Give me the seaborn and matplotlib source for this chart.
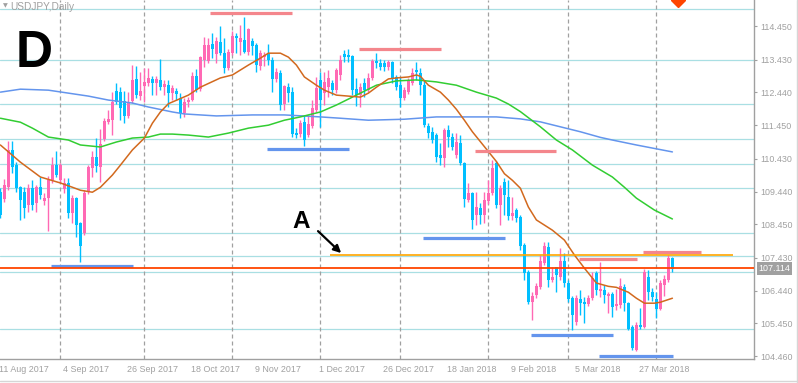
import numpy as np
import pandas as pd
import matplotlib
matplotlib.use('Agg')
import matplotlib.pyplot as plt
import matplotlib.transforms as mtransforms
import seaborn as sns

# USDJPY daily bars, 11 Aug 2017 .. 6 Apr 2018 (x = bar number)
opens = [109.42, 109.21, 109.57, 110.70, 110.24, 109.57, 109.42, 109.03, 109.54, 109.09,
         109.57, 109.15, 109.24, 109.79, 110.24, 109.79, 109.51, 109.70, 108.79, 109.24,
         108.48, 108.18, 109.42, 110.15, 110.48, 110.18, 111.03, 111.54, 111.60, 112.48,
         112.45, 112.18, 111.73, 112.18, 112.85, 112.33, 112.63, 112.73, 112.85, 112.73,
         112.82, 112.60, 112.66, 112.42, 112.48, 112.27, 111.82, 112.15, 112.21, 112.94,
         112.54, 113.42, 113.39, 113.91, 113.60, 113.97, 113.63, 113.18, 113.63, 114.15,
         113.97, 114.03, 113.66, 114.00, 113.88, 113.24, 113.51, 113.63, 113.42, 112.85,
         113.03, 112.09, 112.60, 112.45, 111.21, 111.18, 111.54, 111.15, 111.42, 111.91,
         112.82, 112.42, 112.60, 112.73, 112.51, 112.97, 113.60, 113.57, 113.54, 112.54,
         112.36, 112.73, 112.51, 112.88, 113.39, 113.33, 113.33, 113.21, 113.36, 112.91,
         112.66, 112.27, 112.45, 112.73, 113.12, 113.03, 112.66, 111.42, 111.24, 111.15,
         110.54, 110.45, 111.30, 111.09, 110.54, 110.91, 110.30, 109.18, 109.39, 108.73,
         108.94, 108.73, 109.15, 109.39, 110.30, 109.03, 109.73, 109.27, 108.70, 108.88,
         108.67, 107.82, 107.00, 106.09, 106.30, 106.54, 107.27, 107.76, 106.76, 107.15,
         106.85, 107.33, 106.67, 106.21, 105.48, 106.18, 106.09, 106.03, 106.21, 106.97,
         106.42, 106.45, 106.27, 106.33, 105.97, 106.00, 106.54, 106.06, 105.33, 104.64,
         105.40, 105.33, 106.85, 106.39, 106.18, 105.88, 106.61, 106.76, 107.42]
highs = [109.54, 109.82, 110.97, 110.97, 110.33, 109.60, 109.57, 109.66, 109.79, 109.63,
         109.88, 109.39, 109.91, 110.48, 110.66, 110.30, 109.85, 109.85, 109.33, 109.27,
         108.51, 109.48, 110.24, 110.66, 111.06, 111.33, 111.66, 111.91, 112.45, 112.73,
         112.60, 112.48, 112.45, 113.27, 113.24, 113.06, 113.18, 113.18, 112.94, 112.94,
         113.45, 112.82, 112.82, 112.66, 112.57, 112.42, 112.27, 112.30, 113.06, 113.15,
         113.54, 114.12, 114.09, 114.24, 114.12, 114.45, 114.09, 113.76, 114.30, 114.24,
         114.48, 114.72, 114.39, 114.09, 113.94, 113.72, 113.66, 113.91, 113.51, 113.18,
         113.12, 112.66, 112.73, 112.60, 111.36, 111.60, 111.76, 111.76, 112.21, 112.91,
         113.06, 113.06, 113.12, 112.82, 113.18, 113.57, 113.72, 113.76, 113.57, 112.88,
         112.73, 112.88, 113.03, 113.45, 113.63, 113.45, 113.42, 113.42, 113.39, 112.97,
         112.91, 112.60, 112.88, 113.18, 113.36, 113.18, 112.82, 111.51, 111.39, 111.21,
         110.91, 111.36, 111.45, 111.21, 111.21, 111.15, 110.33, 109.70, 109.42, 109.42,
         109.09, 109.42, 109.79, 110.39, 110.36, 109.63, 109.85, 109.79, 109.27, 108.94,
         108.73, 107.88, 107.06, 106.39, 106.67, 107.52, 107.91, 107.91, 107.15, 107.15,
         107.73, 107.57, 106.76, 106.27, 106.30, 106.45, 106.24, 106.30, 107.00, 107.03,
         107.30, 106.60, 106.39, 106.39, 106.48, 106.82, 106.63, 106.09, 105.39, 105.48,
         105.91, 107.09, 107.06, 106.51, 106.39, 106.76, 106.91, 107.52, 107.45]
lows = [108.63, 109.12, 109.48, 110.00, 109.42, 108.57, 108.63, 108.82, 108.88, 108.82,
        109.21, 109.03, 108.24, 109.70, 109.88, 109.70, 109.39, 108.63, 108.48, 108.06,
        107.30, 108.12, 109.36, 109.88, 110.03, 109.73, 110.97, 111.48, 111.15, 112.09,
        111.60, 111.51, 111.66, 112.12, 112.27, 112.21, 112.15, 112.63, 112.36, 112.36,
        112.51, 112.36, 112.00, 112.21, 112.21, 111.66, 111.70, 112.00, 112.18, 112.45,
        112.48, 113.21, 113.33, 113.48, 113.33, 113.57, 113.03, 113.12, 113.57, 113.63,
        113.57, 113.63, 113.57, 113.57, 113.06, 113.12, 113.24, 113.27, 112.45, 112.76,
        111.91, 111.91, 112.15, 111.09, 111.06, 111.09, 110.82, 111.09, 111.36, 111.85,
        111.39, 112.06, 112.30, 112.36, 112.42, 112.82, 113.36, 113.36, 112.36, 112.03,
        112.00, 112.30, 112.45, 112.82, 113.18, 113.12, 113.09, 113.12, 112.73, 112.51,
        112.00, 112.21, 112.39, 112.66, 112.82, 112.36, 111.39, 111.06, 110.91, 110.33,
        110.24, 110.18, 110.79, 110.70, 110.45, 110.24, 108.97, 109.12, 108.30, 108.42,
        108.45, 108.48, 109.06, 109.33, 108.94, 108.42, 108.73, 108.57, 108.57, 108.51,
        107.67, 106.76, 106.03, 105.55, 106.21, 106.48, 107.21, 106.54, 106.70, 106.39,
        106.76, 106.54, 106.09, 105.24, 105.39, 105.70, 105.45, 105.97, 106.15, 106.30,
        106.24, 106.06, 105.76, 105.64, 105.85, 105.91, 105.82, 105.24, 104.64, 104.61,
        105.28, 105.30, 106.15, 106.12, 105.60, 105.85, 106.27, 106.70, 107.00]
closes = [108.73, 109.63, 110.70, 110.18, 109.54, 109.18, 108.94, 109.54, 109.03, 109.57,
          109.33, 109.24, 109.79, 110.24, 109.94, 110.24, 109.70, 108.79, 109.24, 108.42,
          107.79, 109.39, 110.18, 110.48, 110.21, 110.88, 111.57, 111.63, 112.15, 112.15,
          111.97, 111.73, 112.15, 112.82, 112.36, 112.48, 112.76, 112.88, 112.73, 112.85,
          112.60, 112.70, 112.42, 112.57, 112.39, 111.82, 112.15, 112.21, 112.94, 112.51,
          113.51, 113.88, 113.88, 113.76, 114.00, 113.63, 113.18, 113.66, 114.15, 114.09,
          114.09, 113.66, 114.36, 113.85, 113.27, 113.63, 113.57, 113.42, 112.85, 113.06,
          112.06, 112.63, 112.42, 111.18, 111.15, 111.51, 111.00, 111.48, 111.97, 112.57,
          112.21, 112.76, 112.88, 112.51, 113.12, 113.42, 113.51, 113.51, 112.51, 112.36,
          112.60, 112.51, 112.88, 113.39, 113.33, 113.21, 113.21, 113.36, 112.88, 112.60,
          112.27, 112.51, 112.82, 113.03, 113.06, 112.66, 111.45, 111.21, 111.00, 110.48,
          110.45, 111.30, 111.09, 110.79, 110.94, 110.30, 109.21, 109.39, 108.57, 108.97,
          108.73, 109.18, 109.39, 110.15, 109.03, 109.54, 109.33, 108.70, 108.79, 108.63,
          107.79, 106.97, 106.09, 106.27, 106.57, 107.33, 107.79, 106.76, 106.85, 106.91,
          107.33, 106.67, 106.18, 105.70, 106.21, 106.06, 106.03, 106.21, 106.82, 106.45,
          106.48, 106.30, 106.33, 105.94, 106.03, 106.57, 106.06, 105.27, 104.70, 105.39,
          105.34, 107.00, 106.39, 106.24, 105.88, 106.67, 106.79, 107.42, 107.11]

tick_pos = [0, 16, 32, 48, 64, 80, 96, 112, 128, 144, 160]
tick_labels = ['11 Aug 2017', '4 Sep 2017', '26 Sep 2017', '18 Oct 2017', '9 Nov 2017',
               '1 Dec 2017', '26 Dec 2017', '18 Jan 2018', '9 Feb 2018', '5 Mar 2018',
               '27 Mar 2018']
month_sep = [15, 36, 58, 80, 100, 122, 142, 164]
price_ticks = [114.450, 113.430, 112.440, 111.450, 110.430, 109.440, 108.450,
               107.430, 106.440, 105.450, 104.460]

# moving averages
ma_fast_x = [0, 5, 10, 15, 18, 20, 23, 25, 28, 30, 33, 36, 38, 40, 42, 47, 50, 55, 58, 62,
             65, 67, 70, 72, 74, 76, 79, 81, 84, 87, 90, 92, 94, 97, 99, 102, 104, 105, 107,
             110, 112, 114, 116, 118, 120, 122, 124, 126, 128, 130, 132, 134, 138, 141, 143.5,
             146, 149, 152, 154, 157, 159, 161, 163.5, 165, 168]
ma_fast_y = [110.85, 110.33, 109.88, 109.70, 109.57, 109.48, 109.42, 109.57, 109.94, 110.24,
             110.70, 111.06, 111.51, 111.85, 112.10, 112.36, 112.60, 112.88, 112.97, 113.27,
             113.48, 113.63, 113.63, 113.51, 113.27, 112.91, 112.66, 112.51, 112.36, 112.33,
             112.30, 112.42, 112.60, 112.85, 112.88, 112.91, 112.97, 112.93, 112.66, 112.45,
             112.21, 111.93, 111.60, 111.25, 110.95, 110.65, 110.35, 109.98, 109.78, 109.54,
             108.97, 108.58, 108.27, 107.97, 107.52, 107.12, 106.67, 106.57, 106.54, 106.39,
             106.21, 106.06, 106.06, 106.09, 106.21]
ma_mid_x = [0, 5, 8, 12, 17, 20, 25, 29, 33, 37, 40, 43, 47, 52, 57, 62, 67, 71, 75, 80,
            84, 89, 94, 99, 104, 109, 114, 119, 124, 127, 130, 135, 139, 143, 148, 153, 156,
            159, 163.5, 168]
ma_mid_y = [111.66, 111.54, 111.36, 111.09, 111.00, 110.85, 110.79, 110.94, 111.06, 111.09,
            111.18, 111.18, 111.15, 111.09, 111.21, 111.36, 111.45, 111.60, 111.70, 111.85,
            112.06, 112.36, 112.66, 112.79, 112.82, 112.76, 112.66, 112.45, 112.27, 112.09,
            111.86, 111.40, 111.00, 110.70, 110.24, 109.88, 109.57, 109.24, 108.88, 108.61]
ma_slow_x = [0, 5, 12, 17, 22, 27, 33, 37, 43, 46, 54, 63, 71, 80, 85, 92, 101, 109, 117,
             124, 130, 135, 140, 145, 150, 153, 159, 168]
ma_slow_y = [112.45, 112.54, 112.51, 112.42, 112.33, 112.21, 112.12, 112.00, 111.85, 111.79,
             111.73, 111.76, 111.76, 111.70, 111.66, 111.60, 111.63, 111.70, 111.70, 111.70,
             111.64, 111.55, 111.40, 111.25, 111.08, 111.00, 110.85, 110.64]

# horizontal levels drawn on the chart
level_lines = [114.96, 113.42, 112.08, 111.02, 110.26, 109.55, 108.17, 107.50, 106.99, 105.29]
res_start = [52.4, 89.7, 118.7, 144.7, 160.7]
res_end = [72.9, 110.2, 138.9, 159.2, 175.2]
res_price = [114.85, 113.76, 110.67, 107.40, 107.62]
sup_start = [12.7, 66.7, 105.7, 132.7, 149.7]
sup_end = [33.2, 87.2, 126.2, 153.2, 168.2]
sup_price = [107.19, 110.73, 108.04, 105.09, 104.46]
orange_start, orange_end, orange_price = 82.5, 183.2, 107.51
last_price = 107.114

bars = pd.DataFrame({'open': opens, 'high': highs, 'low': lows, 'close': closes})
bars['x'] = np.arange(len(bars))
bull_col = '#ff69b4'
bear_col = '#00bfff'
bars['color'] = np.where(bars['close'] >= bars['open'], bull_col, bear_col)

sns.set_style('white')
plt.rcParams['font.family'] = ['Liberation Sans', 'DejaVu Sans']

fig = plt.figure(figsize=(7.98, 3.83), dpi=100)
ax = fig.add_axes([0, 24 / 383, 754 / 798, 359 / 383])
ax.set_xlim(-0.1, 188.4)
ax.set_ylim(104.37, 115.24)

gray = '#a0a0a0'
for lv in level_lines:
    ax.axhline(lv, color='#a9dfe3', lw=0.9, zorder=1)
ax.vlines(month_sep, 104.37, 115.24, colors=gray, lw=0.9, linestyles=(0, (3.2, 2.4)), zorder=1)

# candles
ax.vlines(bars['x'], bars['low'], bars['high'], colors=bars['color'], lw=1, zorder=3)
body_lo = bars[['open', 'close']].min(axis=1)
body_h = (bars['close'] - bars['open']).abs().clip(lower=0.04)
ax.bar(bars['x'], body_h, bottom=body_lo, width=0.8, color=bars['color'], lw=0, zorder=3)

# moving averages
sns.lineplot(x=ma_slow_x, y=ma_slow_y, ax=ax, color='#6495ed', lw=1.1, zorder=4)
sns.lineplot(x=ma_mid_x, y=ma_mid_y, ax=ax, color='#32cd32', lw=1.1, zorder=4)
sns.lineplot(x=ma_fast_x, y=ma_fast_y, ax=ax, color='#d2691e', lw=1.1, zorder=4)

ax.hlines(res_price, res_start, res_end, colors='#f4868c', lw=2.3, zorder=5)
ax.hlines(sup_price, sup_start, sup_end, colors='#6495ed', lw=2.3, zorder=5)
ax.hlines(orange_price, orange_start, orange_end, colors='#ffa500', lw=1.2, zorder=5)
ax.axhline(last_price, color='#ff4500', lw=1.3, zorder=5)
ax.plot([169.5], [115.24], marker='D', color='#ff4500', ms=7, clip_on=True, zorder=6)

# axes look (MT4 style)
for s in ['left', 'top']:
    ax.spines[s].set_visible(False)
for s in ['right', 'bottom']:
    ax.spines[s].set_color(gray)
    ax.spines[s].set_linewidth(1)
ax.yaxis.tick_right()
ax.set_yticks(price_ticks)
ax.set_yticklabels([f'{v:.3f}' for v in price_ticks])
ax.set_xticks(tick_pos)
ax.set_xticklabels(tick_labels, ha='left')
ax.tick_params(axis='both', colors=gray, labelcolor=gray, labelsize=6.4, length=2.5, width=0.8, pad=2)
offset = mtransforms.ScaledTranslation(-1 / 100, 0, fig.dpi_scale_trans)
for lab in ax.get_xticklabels():
    lab.set_transform(lab.get_transform() + offset)
ax.set_xlabel('')
ax.set_ylabel('')

trans = mtransforms.blended_transform_factory(ax.transAxes, ax.transData)
ax.text(1.006, last_price, f'{last_price:.3f}', transform=trans, ha='left', va='center',
        color='white', fontsize=6.4,
        bbox=dict(boxstyle='square,pad=0.2', fc=gray, ec='none'), clip_on=False)

# labels on the chart
fig.text(3 / 798, 1 - 6 / 383, '\u25bc', color=gray, fontsize=4.5, va='center',
         family='DejaVu Sans')
fig.text(10 / 798, 1 - 6.5 / 383, 'USDJPY,Daily', color=gray, fontsize=7.3, va='center')
fig.text(16 / 798, 1 - 67 / 383, 'D', color='black', fontsize=37, fontweight='bold',
         va='baseline')
fig.text(292 / 798, 1 - 228 / 383, 'A', color='black', fontsize=17.5, fontweight='bold',
         va='baseline')
ax.annotate('', xy=(85.7, 107.52), xytext=(78.9, 108.30),
            arrowprops=dict(arrowstyle='-|>', color='black', lw=1.6, mutation_scale=11),
            zorder=7)

# window frame
fig.add_artist(plt.Line2D([0, 1], [2.5 / 383, 2.5 / 383], color='#d6d6d6', lw=1))
fig.add_artist(plt.Line2D([796.5 / 798, 796.5 / 798], [0, 1], color='#d6d6d6', lw=1))

fig.savefig('out.png', dpi=100)
